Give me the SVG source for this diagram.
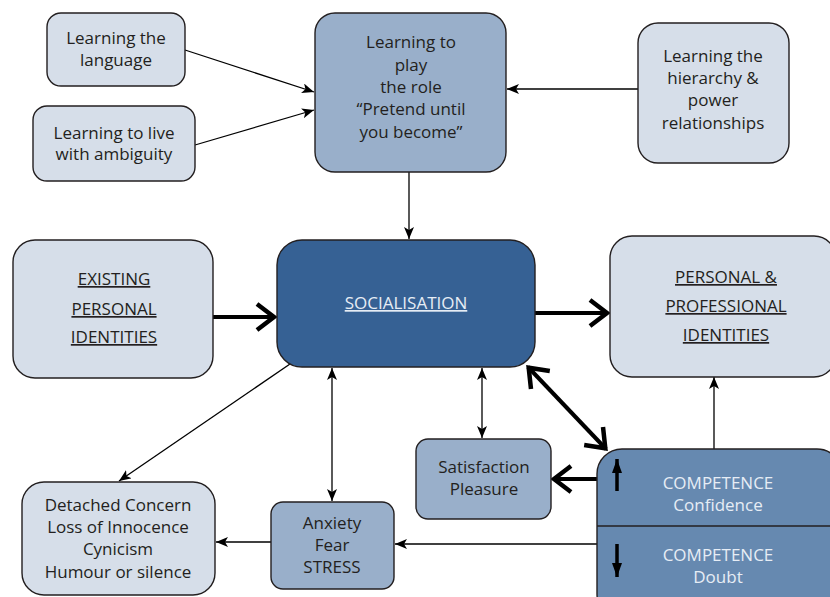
<svg xmlns="http://www.w3.org/2000/svg" width="830" height="597" viewBox="0 0 830 597">
<style>
text{font-family:"Open Sans","Noto Sans","DejaVu Sans",sans-serif;font-size:17px;text-anchor:middle;fill:#231f20}
.light{fill:#d6dee9;stroke:#231f20;stroke-width:1.4}
.mid{fill:#99afca;stroke:#231f20;stroke-width:1.4}
.dark{fill:#366194;stroke:#231f20;stroke-width:1.4}
.comp{fill:#6689b0;stroke:#231f20;stroke-width:1.4}
.u{text-decoration:underline}
.wt{fill:#e6edf5}
.thin{stroke:#000;stroke-width:1.3;fill:none}
.thick{stroke:#000;stroke-width:4;fill:none}
</style>
<defs>
<marker id="ah" markerUnits="userSpaceOnUse" viewBox="0 0 12 10" refX="12" refY="5" markerWidth="12" markerHeight="10" orient="auto-start-reverse">
<path d="M0,0 L12,5 L0,10 L3,5 z" fill="#000"/>
</marker>
<marker id="chev" markerUnits="userSpaceOnUse" viewBox="0 0 24 32" refX="21" refY="16" markerWidth="24" markerHeight="32" orient="auto-start-reverse">
<path d="M3,3 L20,16 L3,29" fill="none" stroke="#000" stroke-width="4.5"/>
</marker>
<marker id="bh" markerUnits="userSpaceOnUse" viewBox="0 0 14 10" refX="14" refY="5" markerWidth="14" markerHeight="10" orient="auto">
<path d="M0,0 L14,5 L0,10 z" fill="#000"/>
</marker>
</defs>

<g id="connectors">
<line class="thin" x1="185" y1="50" x2="314" y2="92" marker-end="url(#ah)"/>
<line class="thin" x1="195" y1="145" x2="314" y2="110" marker-end="url(#ah)"/>
<line class="thin" x1="638" y1="89" x2="507" y2="89" marker-end="url(#ah)"/>
<line class="thin" x1="409" y1="172" x2="409" y2="239" marker-end="url(#ah)"/>
<line class="thick" x1="213" y1="317" x2="275" y2="317" marker-end="url(#chev)"/>
<line class="thick" x1="535" y1="313" x2="608" y2="313" marker-end="url(#chev)"/>
<line class="thin" x1="290" y1="364" x2="119" y2="481" marker-end="url(#ah)"/>
<line class="thin" x1="332" y1="368" x2="332" y2="501" marker-start="url(#ah)" marker-end="url(#ah)"/>
<line class="thin" x1="482" y1="368" x2="482" y2="438" marker-start="url(#ah)" marker-end="url(#ah)"/>
<line class="thick" x1="528" y1="367" x2="606" y2="449" marker-start="url(#chev)" marker-end="url(#chev)"/>
<line class="thick" x1="597" y1="479" x2="553" y2="479" marker-end="url(#chev)"/>
<line class="thin" x1="597" y1="544" x2="395" y2="544" marker-end="url(#ah)"/>
<line class="thin" x1="271" y1="542" x2="216" y2="542" marker-end="url(#ah)"/>
<line class="thin" x1="714" y1="449" x2="714" y2="377" marker-end="url(#ah)"/>
</g>

<g id="n-language">
<rect class="light" x="47" y="13" width="138" height="73" rx="14"/>
<text x="116" y="44">Learning the</text>
<text x="116" y="66">language</text>
</g>
<g id="n-ambiguity">
<rect class="light" x="33" y="106" width="162" height="75" rx="14"/>
<text x="114" y="139">Learning to live</text>
<text x="114" y="160">with ambiguity</text>
</g>
<g id="n-role">
<rect class="mid" x="315" y="13" width="191" height="159" rx="20"/>
<text x="411" y="48">Learning to</text>
<text x="411" y="71">play</text>
<text x="411" y="93">the role</text>
<text x="411" y="115">“Pretend until</text>
<text x="411" y="138">you become”</text>
</g>
<g id="n-hierarchy">
<rect class="light" x="638" y="23" width="151" height="140" rx="20"/>
<text x="713" y="62">Learning the</text>
<text x="713" y="84">hierarchy &amp;</text>
<text x="713" y="106">power</text>
<text x="713" y="129">relationships</text>
</g>
<g id="n-existing">
<rect class="light" x="13" y="240" width="200" height="138" rx="22"/>
<text class="u" x="114" y="285">EXISTING</text>
<text class="u" x="114" y="315">PERSONAL</text>
<text class="u" x="114" y="343">IDENTITIES</text>
</g>
<g id="n-socialisation">
<rect class="dark" x="277" y="240" width="258" height="127" rx="25"/>
<text class="u wt" x="406" y="309">SOCIALISATION</text>
</g>
<g id="n-identities">
<rect class="light" x="610" y="236" width="226" height="141" rx="22"/>
<text class="u" x="726" y="283">PERSONAL &amp;</text>
<text class="u" x="726" y="312">PROFESSIONAL</text>
<text class="u" x="726" y="341">IDENTITIES</text>
</g>
<g id="n-satisfaction">
<rect class="mid" x="416" y="439" width="135" height="80" rx="12"/>
<text x="484" y="473">Satisfaction</text>
<text x="484" y="495">Pleasure</text>
</g>
<g id="n-competence">
<rect class="comp" x="597" y="449" width="245" height="170" rx="25"/>
<line x1="597" y1="526" x2="842" y2="526" stroke="#231f20" stroke-width="1.4"/>
<line x1="617" y1="491" x2="617" y2="459" stroke="#000" stroke-width="3.5" marker-end="url(#bh)"/>
<line x1="617" y1="544" x2="617" y2="577" stroke="#000" stroke-width="3.5" marker-end="url(#bh)"/>
<text class="wt" x="718" y="489">COMPETENCE</text>
<text class="wt" x="718" y="511">Confidence</text>
<text class="wt" x="718" y="561">COMPETENCE</text>
<text class="wt" x="718" y="583">Doubt</text>
</g>
<g id="n-anxiety">
<rect class="mid" x="271" y="502" width="123" height="87" rx="12"/>
<text x="332" y="529">Anxiety</text>
<text x="332" y="551">Fear</text>
<text x="332" y="573">STRESS</text>
</g>
<g id="n-detached">
<rect class="light" x="22" y="482" width="193" height="113" rx="22"/>
<text x="118" y="511">Detached Concern</text>
<text x="118" y="533">Loss of Innocence</text>
<text x="118" y="555">Cynicism</text>
<text x="118" y="578">Humour or silence</text>
</g>
</svg>
